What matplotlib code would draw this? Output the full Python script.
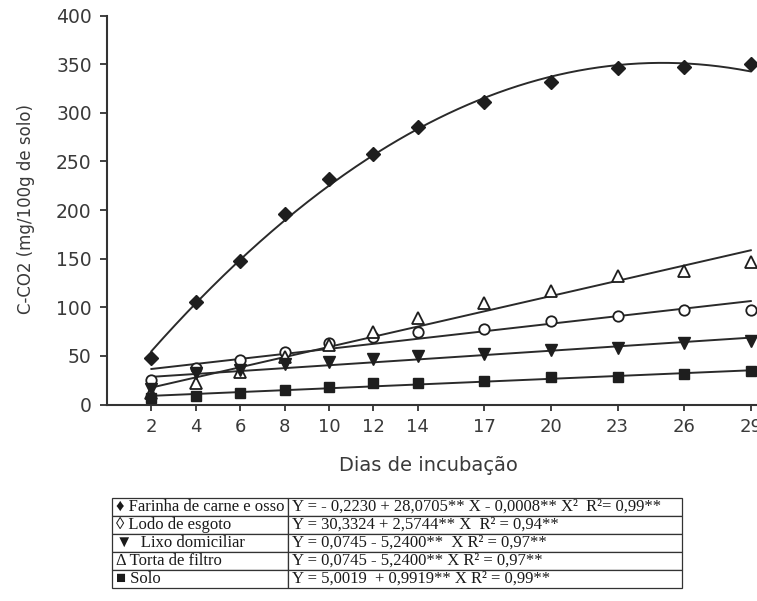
import numpy as np
import matplotlib
matplotlib.use("Agg")
import matplotlib.pyplot as plt

# ---------------- data ----------------
days = [2, 4, 6, 8, 10, 12, 14, 17, 20, 23, 26, 29]
farinha = [48, 105, 148, 196, 232, 258, 285, 311, 332, 346, 347, 350]
lodo = [25, 38, 46, 54, 63, 69, 75, 78, 86, 91, 97, 97]
lixo = [16, 32, 36, 42, 44, 47, 50, 52, 56, 58, 63, 65]
torta = [12, 22, 33, 49, 61, 75, 89, 104, 117, 132, 137, 147]
solo = [7, 9, 12, 15, 18, 22, 22, 24, 28, 28, 31, 34]

y_ticks = [0, 50, 100, 150, 200, 250, 300, 350, 400]
x_label = "Dias de incubação"
y_label = "C-CO2 (mg/100g de solo)"

legend_labels = ["\u2666 Farinha de carne e osso",
                 "\u25CA Lodo de esgoto",
                 "\u25BC  Lixo domiciliar",
                 "\u0394 Torta de filtro",
                 "\u25A0 Solo"]
equations = ["Y = - 0,2230 + 28,0705** X - 0,0008** X\u00B2  R\u00B2= 0,99**",
             "Y = 30,3324 + 2,5744** X  R\u00B2 = 0,94**",
             "Y = 0,0745 - 5,2400**  X R\u00B2 = 0,97**",
             "Y = 0,0745 - 5,2400** X R\u00B2 = 0,97**",
             "Y = 5,0019  + 0,9919** X R\u00B2 = 0,99**"]

# ---------------- figure ----------------
W, H = 757, 601
fig = plt.figure(figsize=(W / 100, H / 100), dpi=100)
fig.patch.set_facecolor("white")

px_per_day = 22.2
ax_left, ax_bottom_y = 107, 404.5
ax_h = 388.8
ax = fig.add_axes([ax_left / W, (H - ax_bottom_y) / H, 30 * px_per_day / W, ax_h / H])
ax.set_xlim(0, 30)
ax.set_ylim(0, 400)
ax.set_facecolor("white")

ink = "#1e1e1e"
line_c = "#2a2a2a"
xs = np.linspace(days[0], days[-1], 300)
dx = np.array(days, dtype=float)

# quadratic trend for farinha, linear for the others
c2 = np.polyfit(dx, farinha, 2)
ax.plot(xs, np.polyval(c2, xs), color=line_c, lw=1.4, zorder=2)
for vals in (lodo, lixo, torta, solo):
    c1 = np.polyfit(dx, vals, 1)
    ax.plot(xs, np.polyval(c1, xs), color=line_c, lw=1.4, zorder=2)

ax.plot(days, farinha, ls="none", marker="D", ms=7.5, mfc=ink, mec=ink, zorder=3)
ax.plot(days, lodo, ls="none", marker="o", ms=7.5, mfc="white", mec=ink, mew=1.3, zorder=3)
ax.plot(days, torta, ls="none", marker="^", ms=8, mfc="white", mec=ink, mew=1.3, zorder=3)
ax.plot(days, lixo, ls="none", marker="v", ms=8, mfc=ink, mec=ink, zorder=3)
ax.plot(days, solo, ls="none", marker="s", ms=7.5, mfc=ink, mec=ink, zorder=3)

for s in ("top", "right"):
    ax.spines[s].set_visible(False)
for s in ("left", "bottom"):
    ax.spines[s].set_color("#333333")
    ax.spines[s].set_linewidth(1.5)

txt_c = "#3a3a3a"
ax.set_xticks(days)
ax.set_xticklabels([str(d) for d in days], fontsize=13, color=txt_c, family="DejaVu Sans")
ax.set_yticks(y_ticks)
ax.set_yticklabels([str(v) for v in y_ticks], fontsize=13.5, color=txt_c, family="DejaVu Sans")
ax.tick_params(axis="x", direction="out", length=4, width=1.3, color="#333333", pad=6)
ax.tick_params(axis="y", direction="out", length=5, width=1.3, color="#333333", pad=6)

fig.text(428 / W, (H - 471) / H, x_label, ha="center", va="baseline",
         fontsize=14, color=txt_c, family="DejaVu Sans")
fig.text(26 / W, (H - 209) / H, y_label, ha="center", va="center", rotation=90,
         fontsize=12, color=txt_c, family="DejaVu Sans")

# ---------------- equation table ----------------
t_left, t_right, t_top, t_bot = 112, 682, 498, 588
tax = fig.add_axes([t_left / W, (H - t_bot) / H, (t_right - t_left) / W, (t_bot - t_top) / H])
tax.axis("off")
rows = [[a, b] for a, b in zip(legend_labels, equations)]
c0 = (288 - t_left) / (t_right - t_left)
tbl = tax.table(cellText=rows, colWidths=[c0, 1 - c0], cellLoc="left", bbox=[0, 0, 1, 1])
tbl.auto_set_font_size(False)
tbl.set_fontsize(12)
for (r, c), cell in tbl.get_celld().items():
    cell.set_edgecolor("#333333")
    cell.set_linewidth(0.9)
    cell.PAD = 0.02 if c == 0 else 0.01
    cell.get_text().set_fontfamily(["Liberation Serif", "DejaVu Serif", "DejaVu Sans"])
    cell.get_text().set_color("#1a1a1a")

fig.savefig("out.png", dpi=100)
